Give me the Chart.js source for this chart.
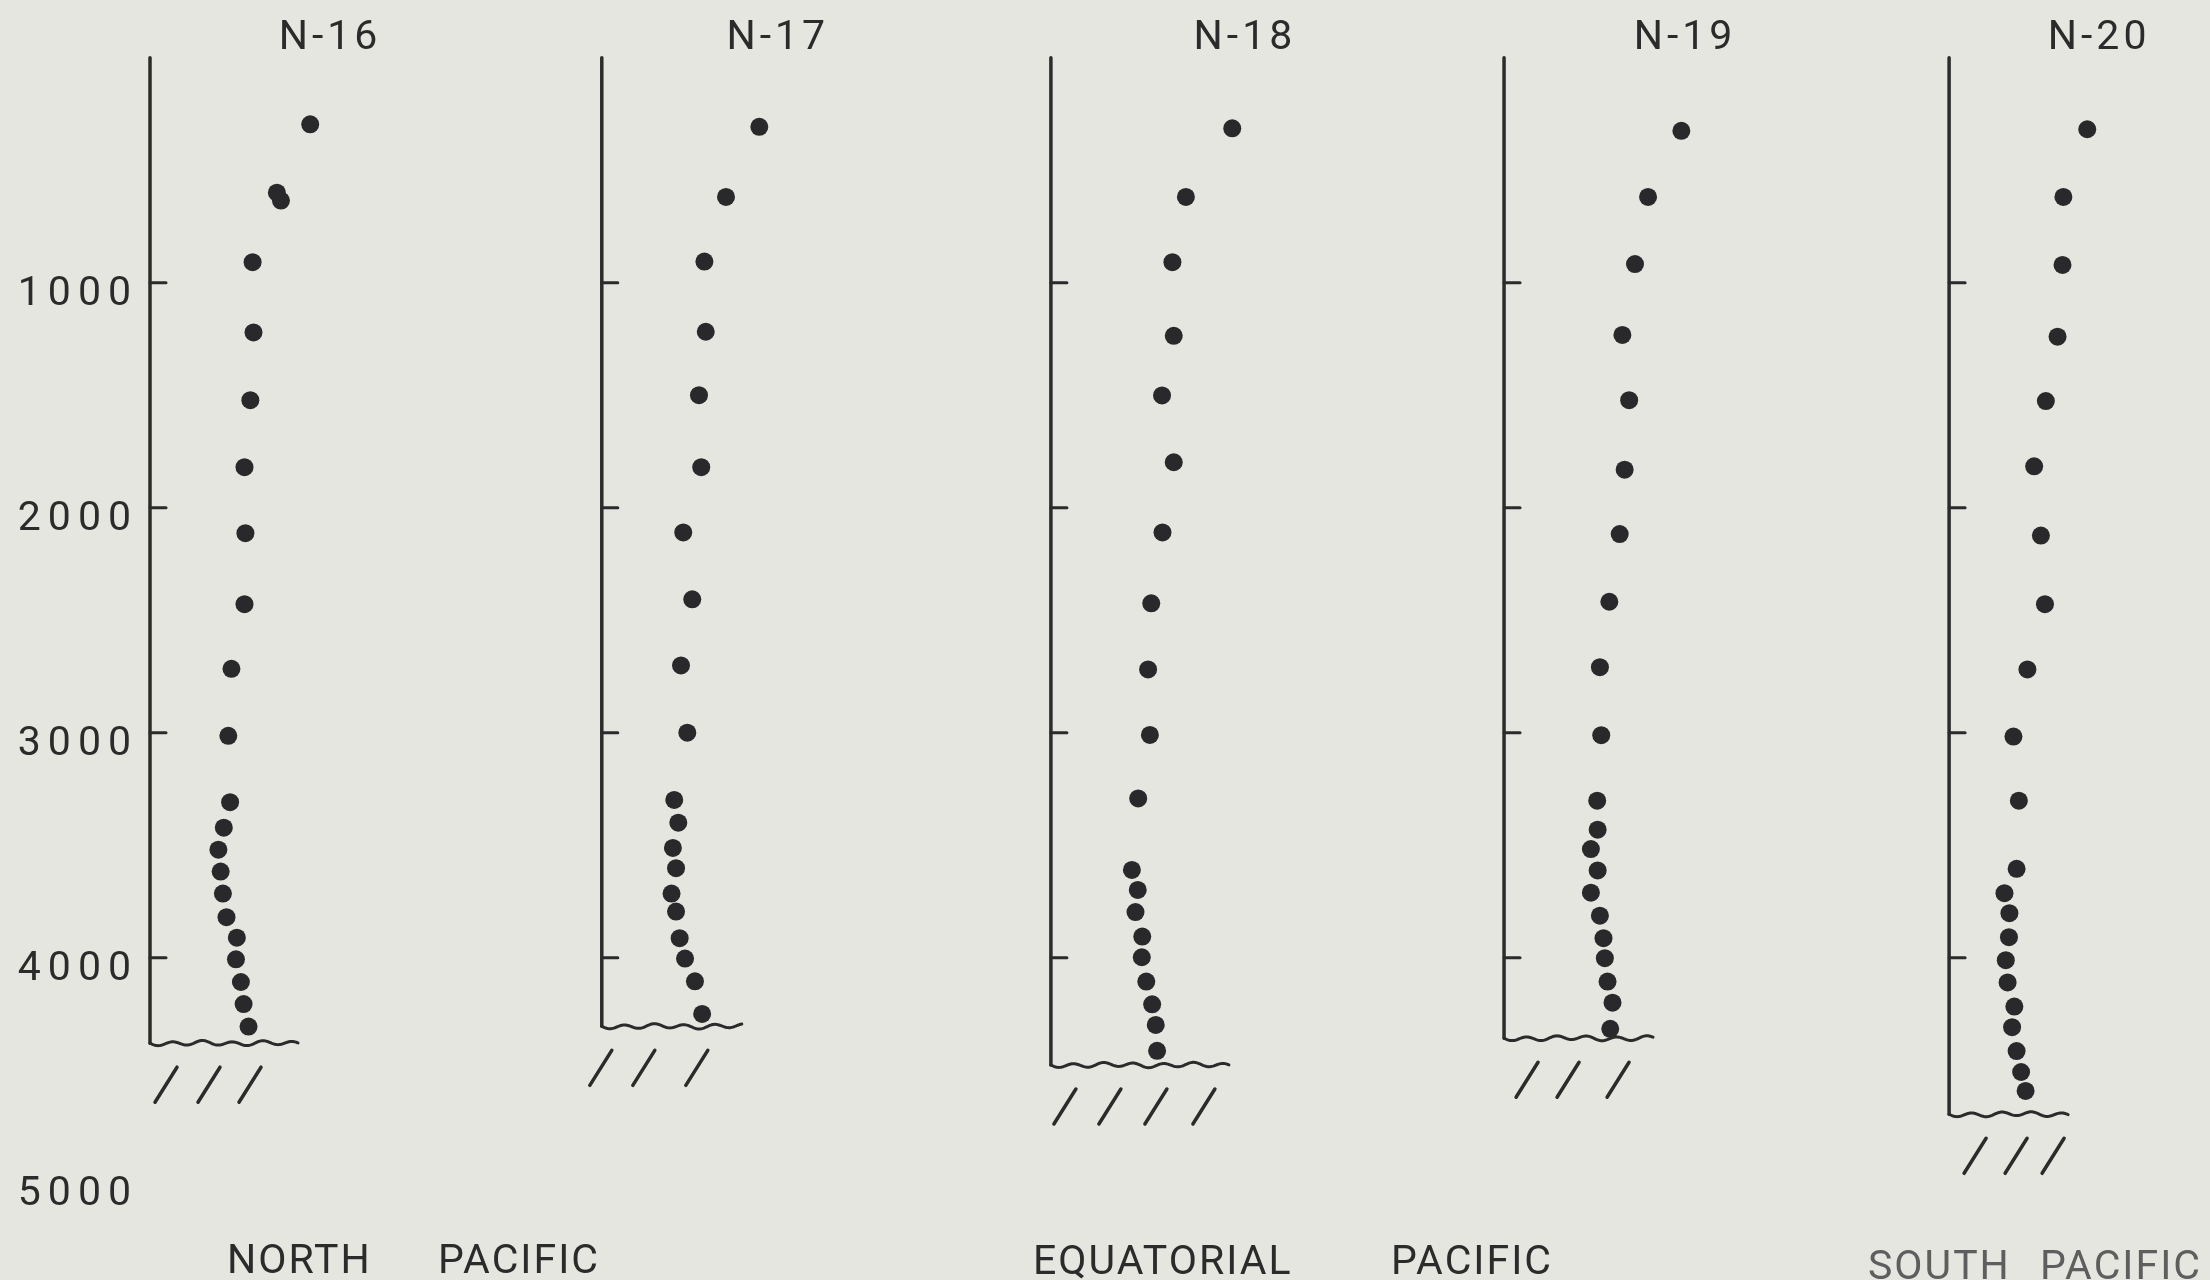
<!DOCTYPE html>
<html>
<head>
<meta charset="utf-8">
<title>Deep profiles, stations N-16 to N-20</title>
<script src="https://cdn.jsdelivr.net/npm/chart.js@4/dist/chart.umd.min.js"></script>
<style>
  html, body { margin: 0; padding: 0; background: #e5e6e0; }
  #wrap { width: 2210px; height: 1280px; }
  canvas { display: block; }
</style>
</head>
<body>
<div id="wrap"><canvas id="profiles" width="2210" height="1280"></canvas></div>
<script>
// ---- data -------------------------------------------------------------
// Stations, one profile panel each
const stations = ['N-16', 'N-17', 'N-18', 'N-19', 'N-20'];

// Sample depths (m) and measured values (relative units) per station
const depthN16 = [296, 600, 635, 909, 1221, 1522, 1820, 2113, 2429, 2716, 3014, 3309, 3422, 3520, 3617, 3715, 3820, 3911, 4007, 4108, 4206, 4306];
const valueN16 = [35.6, 28.2, 29.1, 22.8, 23.0, 22.3, 21.0, 21.2, 21.0, 18.1, 17.4, 17.8, 16.4, 15.2, 15.7, 16.2, 17.0, 19.3, 19.1, 20.2, 20.8, 21.9];

const depthN17 = [307, 619, 906, 1218, 1500, 1820, 2110, 2407, 2701, 3000, 3299, 3400, 3512, 3602, 3715, 3795, 3913, 4004, 4105, 4250];
const valueN17 = [35.0, 27.6, 22.8, 23.1, 21.6, 22.1, 18.1, 20.1, 17.6, 19.0, 16.1, 17.0, 15.8, 16.5, 15.5, 16.5, 17.3, 18.5, 20.7, 22.3];

const depthN18 = [314, 619, 909, 1236, 1501, 1798, 2110, 2425, 2719, 3010, 3292, 3610, 3699, 3797, 3906, 3998, 4106, 4207, 4299, 4414];
const valueN18 = [40.3, 30.0, 27.0, 27.3, 24.7, 27.3, 24.8, 22.3, 21.6, 22.0, 19.4, 18.0, 19.3, 18.8, 20.3, 20.2, 21.2, 22.5, 23.3, 23.6];

const depthN19 = [325, 619, 917, 1232, 1522, 1831, 2117, 2418, 2709, 3011, 3302, 3431, 3517, 3612, 3711, 3813, 3913, 4002, 4106, 4200, 4316];
const valueN19 = [39.4, 32.0, 29.1, 26.3, 27.8, 26.8, 25.7, 23.4, 21.3, 21.6, 20.7, 20.8, 19.3, 20.8, 19.3, 21.3, 22.1, 22.4, 23.0, 24.1, 23.6];

const depthN20 = [318, 619, 921, 1240, 1526, 1816, 2124, 2429, 2719, 3017, 3302, 3605, 3713, 3802, 3909, 4011, 4110, 4217, 4309, 4415, 4508, 4592];
const valueN20 = [30.7, 25.4, 25.2, 24.1, 21.5, 18.9, 20.4, 21.3, 17.4, 14.3, 15.5, 15.0, 12.3, 13.4, 13.3, 12.6, 13.0, 14.5, 14.0, 15.0, 16.0, 17.0];

// Sea-floor depth (m) under each station
const floorDepth = [4380, 4305, 4477, 4358, 4696];

// Depth axis tick values (m)
const depthTicks = [1000, 2000, 3000, 4000, 5000];

// Ocean-region captions along the bottom
const regionWords = ['NORTH', 'PACIFIC', 'EQUATORIAL', 'PACIFIC', 'SOUTH', 'PACIFIC'];

// ---- layout & style ---------------------------------------------------
const panelRange  = [100.4, 99.8, 100.7, 98.9, 55.6];   // value span given to each panel's x scale
const titleShift  = [180, 176, 194, 181, 150];           // title centre, px right of the panel axis
const floorLength = [148, 140, 178, 149, 119];           // length of the wavy sea-floor line, px
const hatchStarts = [[5, 48, 89], [-12, 31, 84], [3, 48, 94, 142], [12, 53, 103], [15, 56, 93]];
const regionX     = [227, 438, 1033, 1391, 1868, 2040];
const regionBase  = [1273, 1273, 1274, 1274, 1279, 1279];
const regionInk   = ['#2b2b2b', '#2b2b2b', '#2b2b2b', '#2b2b2b', '#5e5e5e', '#5e5e5e'];
const INK = '#2b2b2b';
const FONT = 'Roboto, "DejaVu Sans", sans-serif';

const depthSeries = [depthN16, depthN17, depthN18, depthN19, depthN20];
const valueSeries = [valueN16, valueN17, valueN18, valueN19, valueN20];

// One hidden x scale per panel, laid side by side in a single stack
const scales = {
  y: {
    position: 'left',
    min: 0,
    max: 5000,
    reverse: true,
    grid: { display: false, drawTicks: false },
    border: { display: false },
    afterFit: s => { s.width = 150; },
    afterBuildTicks: s => { s.ticks = depthTicks.map(v => ({ value: v })); },
    ticks: {
      padding: 12,
      labelOffset: 12,
      color: INK,
      font: { family: FONT, size: 41 },
      callback: v => String(v)
    }
  }
};
stations.forEach((name, i) => {
  scales['p' + i] = {
    axis: 'x',
    type: 'linear',
    position: 'bottom',
    stack: 'panels',
    stackWeight: panelRange[i],
    min: 0,
    max: panelRange[i],
    display: false
  };
});

const datasets = stations.map((name, i) => ({
  label: name,
  xAxisID: 'p' + i,
  yAxisID: 'y',
  data: valueSeries[i].map((v, k) => ({ x: v, y: depthSeries[i][k] })),
  pointRadius: 9,
  pointHoverRadius: 9,
  pointBackgroundColor: '#29292b',
  pointBorderWidth: 0,
  showLine: false
}));

// Axis line, depth ticks, sea floor, hatching and station titles of each panel
const panelFrame = {
  id: 'panelFrame',
  beforeDraw(chart) {
    chart.ctx.letterSpacing = '7px';
  },
  beforeDatasetsDraw(chart) {
    const { ctx } = chart;
    const y = chart.scales.y;
    ctx.save();
    ctx.letterSpacing = '0px';
    ctx.strokeStyle = INK;
    ctx.lineCap = 'round';
    ctx.lineJoin = 'round';
    stations.forEach((name, i) => {
      const x0 = chart.scales['p' + i].getPixelForValue(0);
      const yTop = y.getPixelForValue(0);
      const yBot = y.getPixelForValue(floorDepth[i]);

      ctx.lineWidth = 3.5;
      ctx.beginPath();
      ctx.moveTo(x0, yTop);
      ctx.lineTo(x0, yBot);
      ctx.stroke();

      ctx.lineWidth = 3;
      depthTicks.filter(d => d < floorDepth[i]).forEach(d => {
        const ty = y.getPixelForValue(d);
        ctx.beginPath();
        ctx.moveTo(x0, ty);
        ctx.lineTo(x0 + 16, ty);
        ctx.stroke();
      });

      ctx.lineWidth = 3;
      ctx.beginPath();
      ctx.moveTo(x0, yBot);
      for (let dx = 1; dx <= floorLength[i]; dx++) {
        const wy = yBot + 2.0 * Math.sin(dx / 30 * 2 * Math.PI) + 0.7 * Math.sin(dx / (11 + i));
        ctx.lineTo(x0 + dx, wy);
      }
      ctx.stroke();

      ctx.lineWidth = 3.5;
      hatchStarts[i].forEach(h => {
        ctx.beginPath();
        ctx.moveTo(x0 + h, yBot + 59);
        ctx.lineTo(x0 + h + 22, yBot + 24);
        ctx.stroke();
      });
    });
    ctx.restore();
  },
  afterDraw(chart) {
    const { ctx } = chart;
    ctx.save();
    ctx.font = '41px ' + FONT;
    ctx.textBaseline = 'alphabetic';
    ctx.fillStyle = INK;
    ctx.letterSpacing = '4px';
    ctx.textAlign = 'center';
    stations.forEach((name, i) => {
      const x0 = chart.scales['p' + i].getPixelForValue(0);
      ctx.fillText(name, x0 + titleShift[i], 49);
    });
    ctx.textAlign = 'left';
    ctx.letterSpacing = '2px';
    regionWords.forEach((w, k) => {
      ctx.fillStyle = regionInk[k];
      ctx.fillText(w, regionX[k], regionBase[k]);
    });
    ctx.restore();
    ctx.letterSpacing = '0px';
  }
};

new Chart(document.getElementById('profiles'), {
  type: 'scatter',
  data: { datasets },
  options: {
    responsive: false,
    devicePixelRatio: 1,
    animation: false,
    events: [],
    layout: { padding: { left: 0, right: 10.7, top: 57.7, bottom: 97.3 } },
    scales,
    plugins: {
      legend: { display: false },
      tooltip: { enabled: false },
      title: { display: false }
    }
  },
  plugins: [panelFrame]
});
</script>
</body>
</html>
